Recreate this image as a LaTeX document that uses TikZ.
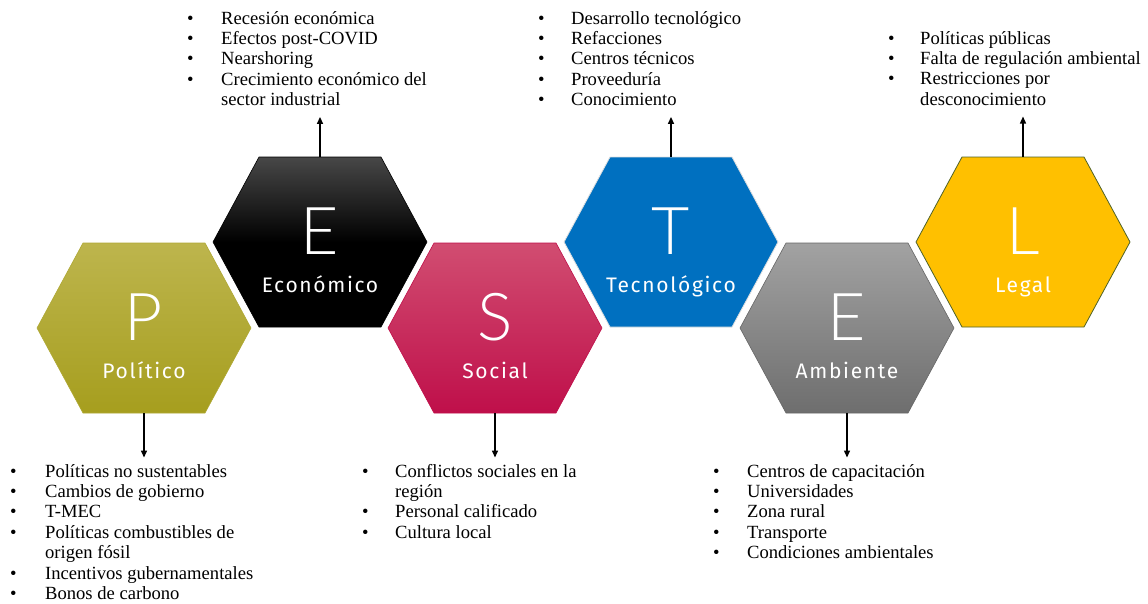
\documentclass[tikz,border=0pt]{standalone}
\usepackage{fontspec}
\setmainfont{Liberation Serif}
\IfFontExistsTF{Lato Light}{\newfontfamily\hexletter{Lato Light}}{\newfontfamily\hexletter{Lato}}
\newfontfamily\hexlabel{Fira Sans}
\usetikzlibrary{arrows.meta}

\definecolor{polTop}{HTML}{BDB54D}
\definecolor{polBot}{HTML}{A69E1E}
\definecolor{socTop}{HTML}{D14D71}
\definecolor{socBot}{HTML}{BF0F4A}
\definecolor{tecBlue}{HTML}{0070C0}
\definecolor{ambTop}{HTML}{A2A2A2}
\definecolor{ambBot}{HTML}{6E6E6E}
\definecolor{legYellow}{HTML}{FFC000}
\definecolor{legEdge}{HTML}{4F6228}

\tikzset{
  hexP/.style={top color=polTop, bottom color=polBot, draw=polBot!90!white, line width=0.6pt},
  hexE/.style={top color=black!72, bottom color=black, middle color=black, draw=black, line width=0.6pt},
  hexS/.style={top color=socTop, bottom color=socBot, draw=socBot, line width=0.6pt},
  hexT/.style={fill=tecBlue, draw=white!75!gray, line width=0.8pt},
  hexA/.style={top color=ambTop, bottom color=ambBot, draw=black!60, line width=0.6pt},
  hexL/.style={fill=legYellow, draw=legEdge, line width=0.8pt},
  hexbox/.style={rectangle, minimum width=214pt, minimum height=170pt, inner sep=0pt},
  bigletter/.style={text=white, anchor=base, inner sep=0pt, font=\hexletter\fontsize{66}{66}\selectfont},
  hexname/.style={text=white, anchor=base, inner sep=0pt, font=\hexlabel\fontsize{21}{21}\selectfont\addfontfeatures{LetterSpace=8}},
  facts/.style={anchor=base west, inner xsep=0pt, inner ysep=5pt, font=\fontsize{18.6}{20.4}\selectfont},
  link/.style={-{Triangle[length=7pt,width=6pt]}, line width=1.4pt}
}

\begin{document}
\begin{tikzpicture}[x=1pt, y=-1pt]
    \useasboundingbox (0,0) rectangle (1148,603);

    % hexagons
    \foreach \name/\cx/\cy/\sty/\ltr/\lbl in {P/144/328/hexP/P/Político, E1/320/242/hexE/E/Económico, S/495/328/hexS/S/Social, T/671/242/hexT/T/Tecnológico, E2/847/328/hexA/E/Ambiente, L/1023/242/hexL/L/Legal}
    {
        \path[\sty] (\cx-107,\cy) -- (\cx-61,\cy-85) -- (\cx+61,\cy-85) -- (\cx+107,\cy) -- (\cx+61,\cy+85) -- (\cx-61,\cy+85) -- cycle;
        \node[hexbox] (\name) at (\cx,\cy) {};
        \node[bigletter] (\name-ltr) at (\cx,\cy+12) {\ltr};
        \node[hexname] (\name-lbl) at (\cx,\cy+50) {\lbl};
    }

    % lists below
    \node[facts] (Plist) at (10,477) {\begin{tabular}[t]{@{}p{35pt}@{}l@{}}
        \textbullet & Políticas no sustentables\\
        \textbullet & Cambios de gobierno\\
        \textbullet & T-MEC\\
        \textbullet & Políticas combustibles de\\
                    & origen fósil\\
        \textbullet & Incentivos gubernamentales\\
        \textbullet & Bonos de carbono
    \end{tabular}};
    \node[facts] (Slist) at (362,477) {\begin{tabular}[t]{@{}p{33pt}@{}l@{}}
        \textbullet & Conflictos sociales en la\\
                    & región\\
        \textbullet & Personal calificado\\
        \textbullet & Cultura local
    \end{tabular}};
    \node[facts] (E2list) at (713,477) {\begin{tabular}[t]{@{}p{34pt}@{}l@{}}
        \textbullet & Centros de capacitación\\
        \textbullet & Universidades\\
        \textbullet & Zona rural\\
        \textbullet & Transporte\\
        \textbullet & Condiciones ambientales
    \end{tabular}};

    % lists above
    \node[facts] (E1list) at (187,24) {\begin{tabular}[t]{@{}p{34pt}@{}l@{}}
        \textbullet & Recesión económica\\
        \textbullet & Efectos post-COVID\\
        \textbullet & Nearshoring\\
        \textbullet & Crecimiento económico del\\
                    & sector industrial
    \end{tabular}};
    \node[facts] (Tlist) at (538,24) {\begin{tabular}[t]{@{}p{33pt}@{}l@{}}
        \textbullet & Desarrollo tecnológico\\
        \textbullet & Refacciones\\
        \textbullet & Centros técnicos\\
        \textbullet & Proveeduría\\
        \textbullet & Conocimiento
    \end{tabular}};
    \node[facts] (Llist) at (888,44) {\begin{tabular}[t]{@{}p{32pt}@{}l@{}}
        \textbullet & Políticas públicas\\
        \textbullet & Falta de regulación ambiental\\
        \textbullet & Restricciones por\\
                    & desconocimiento
    \end{tabular}};

    % arrows
    \draw[link] (P.south) -- (P.south |- Plist.north);
    \draw[link] (S.south) -- (S.south |- Slist.north);
    \draw[link] (E2.south) -- (E2.south |- E2list.north);
    \draw[link] (E1.north) -- (E1.north |- E1list.south);
    \draw[link] (T.north) -- (T.north |- Tlist.south);
    \draw[link] (L.north) -- (L.north |- Llist.south);
\end{tikzpicture}
\end{document}
